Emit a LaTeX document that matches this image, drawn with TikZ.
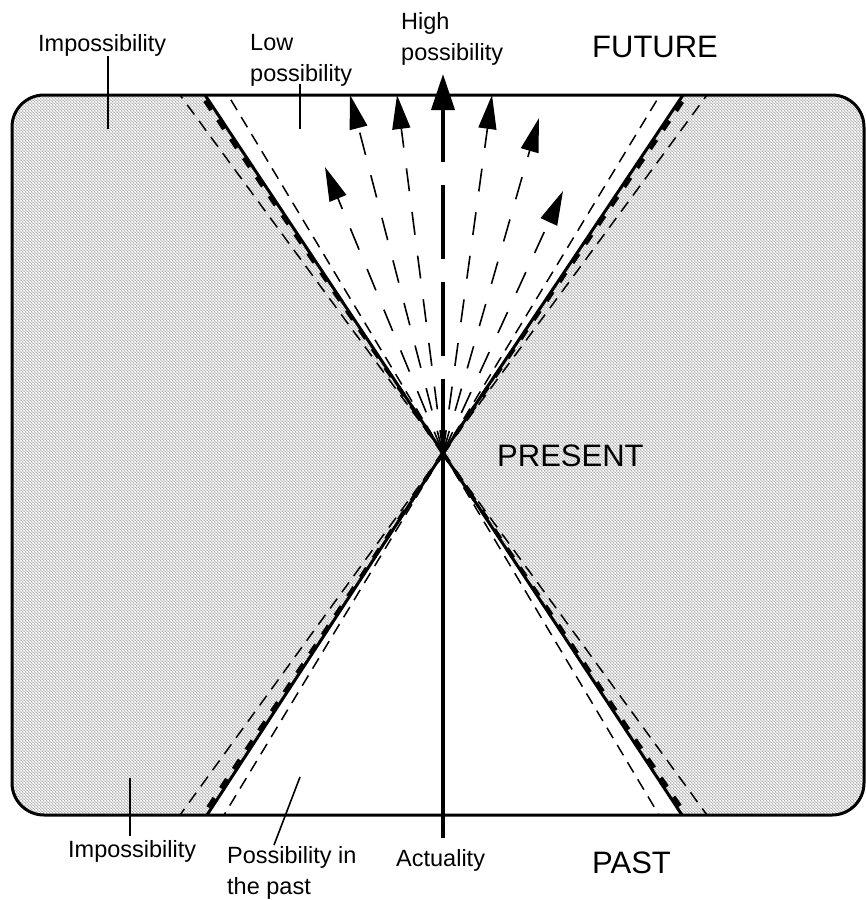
\documentclass[tikz,border=0pt]{standalone}
\usepackage{fontspec}
\setmainfont{Liberation Sans}
\usetikzlibrary{arrows.meta,patterns.meta}

\tikzdeclarepattern{
  name=hatch,
  type=uncolored,
  bounding box={(0pt,0pt) and (3pt,3pt)},
  tile size={(3pt,3pt)},
  code={
    \draw[line width=0.4pt] (-1pt,4pt) -- (4pt,-1pt);
    \draw[line width=0.4pt] (-1pt,1pt) -- (1pt,-1pt);
    \draw[line width=0.4pt] (2pt,4pt) -- (4pt,2pt);
  }
}

\begin{document}
\begin{tikzpicture}[x=1pt,y=-1pt,
  edge/.style={line width=3pt},
  conedash/.style={line width=1.5pt, dash pattern=on 12pt off 8pt},
  thickdash/.style={line width=4pt, dash pattern=on 11pt off 12pt},
  fan/.style={line width=1.6pt, dash pattern=on 23pt off 21pt, -{Triangle[length=34pt,width=18pt]}},
  pointer/.style={line width=1.6pt},
  small/.style={font=\fontsize{23.5pt}{31pt}\selectfont, inner sep=0pt, anchor=base west, align=left},
  big/.style={font=\fontsize{31pt}{36pt}\selectfont, inner sep=0pt, anchor=base west},
]
\useasboundingbox (0,0) rectangle (866,900);

% key points
\coordinate (O)  at (443,453);
\coordinate (TL) at (205,95);
\coordinate (TR) at (683,95);
\coordinate (BL) at (207,815);
\coordinate (BR) at (682,815);

% hatched impossibility region
\path[pattern=hatch, pattern color=black!70, even odd rule, rounded corners=32pt]
  (12,95) rectangle (864,815)
  [sharp corners] (TL) -- (TR) -- (O) -- cycle
  (BL) -- (BR) -- (O) -- cycle;

% frame
\draw[edge, rounded corners=32pt] (12,95) rectangle (864,815);

% dashed cone boundaries
\coordinate (tlo) at (180,95);
\coordinate (tli) at (228,95);
\coordinate (tri) at (660,95);
\coordinate (tro) at (707,95);
\coordinate (blo) at (180,815);
\coordinate (bli) at (224,815);
\coordinate (bri) at (659,815);
\coordinate (bro) at (707,815);
\foreach \p in {tlo,tli,tri,tro,blo,bli,bri,bro} \draw[conedash] (O) -- (\p);

% thick dashed near the light cone
\coordinate (tlt) at (201,95);
\coordinate (trt) at (687,95);
\coordinate (blt) at (203,815);
\coordinate (brt) at (686,815);
\foreach \p in {tlt,trt,blt,brt} \draw[thickdash] (O) -- (\p);

% light cone (solid)
\draw[edge] (TL) -- (O) -- (BR);
\draw[edge] (TR) -- (O) -- (BL);

% possible futures
\coordinate (a1) at (325,167);
\coordinate (a2) at (350,95);
\coordinate (a3) at (397,95);
\coordinate (a5) at (492,95);
\coordinate (a6) at (539,118);
\coordinate (a7) at (563,191);
\foreach \p in {a1,a2,a3,a5,a6,a7} \draw[fan] (O) -- (\p);

% actuality line
\coordinate (ahigh) at (443,74);
\coordinate (alow) at (443,838);
\draw[line width=4pt, dash pattern=on 74pt off 23pt, -{Triangle[length=36pt,width=23pt]}] (O) -- (ahigh);
\draw[line width=4pt] (O) -- (alow);

% labels (base anchor = baseline of last line)
\node[small] (imp1) at (38,51) {Impossibility};
\node[small] (low) at (250,81) {Low\\possibility};
\node[small] (high) at (401,60) {High\\possibility};
\node[big] (fut) at (592,57) {FUTURE};
\node[big] (pres) at (497,466) {PRESENT};
\node[small] (imp2) at (68,857) {Impossibility};
\node[small] (posp) at (227,894) {Possibility in\\the past};
\node[small] (actl) at (396,866) {Actuality};
\node[big] (past) at (592,873) {PAST};

% pointers
\coordinate (p1a) at (108,56);  \coordinate (p1b) at (108,129);
\coordinate (p2a) at (300,84);  \coordinate (p2b) at (300,129);
\coordinate (p3a) at (130,778); \coordinate (p3b) at (130,836);
\coordinate (p4a) at (300,777); \coordinate (p4b) at (274,845);
\draw[pointer] (p1a) -- (p1b);
\draw[pointer] (p2a) -- (p2b);
\draw[pointer] (p3a) -- (p3b);
\draw[pointer] (p4a) -- (p4b);
\end{tikzpicture}
\end{document}
